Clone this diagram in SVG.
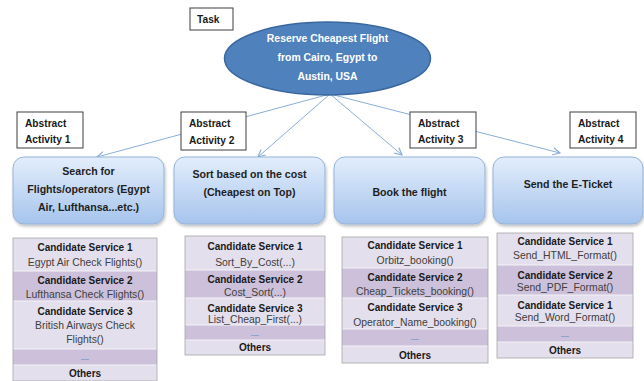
<svg xmlns="http://www.w3.org/2000/svg" width="644" height="381" viewBox="0 0 644 381">
<defs>
<linearGradient id="gb" x1="0" y1="0" x2="0" y2="1">
<stop offset="0" stop-color="#E3EEFB"/>
<stop offset="1" stop-color="#A6C4ED"/>
</linearGradient>
<filter id="sh" x="-10%" y="-10%" width="130%" height="140%">
<feDropShadow dx="1" dy="2" stdDeviation="1.5" flood-color="#000" flood-opacity="0.25"/>
</filter>
<marker id="ah" viewBox="0 0 10 10" refX="9" refY="5" markerWidth="9" markerHeight="9" orient="auto" markerUnits="userSpaceOnUse">
<path d="M1,1 L9,5 L1,9" fill="none" stroke="#8AAED8" stroke-width="1.3"/>
</marker>
<style>
.lbl{fill:#fff;stroke:#3F3F3F;stroke-width:1}
.lt{font-family:"Liberation Sans",Arial,sans-serif;font-weight:bold;font-size:10.2px;fill:#1a1a1a}
.act{fill:url(#gb);stroke:#95B3D7;stroke-width:1;filter:url(#sh)}
.at{font-family:"Liberation Sans",Arial,sans-serif;font-weight:bold;font-size:10.6px;fill:#1f1f1f;text-anchor:middle}
.et{font-family:"Liberation Sans",Arial,sans-serif;font-weight:bold;font-size:10.4px;fill:#fff;text-anchor:middle}
.rl{fill:#E4DFEC}
.rd{fill:#CCC0DA}
.sep{stroke:#F4F2F7;stroke-width:1}
.bd{fill:none;stroke:#A6A6A6;stroke-width:0.8}
.h{font-family:"Liberation Sans",Arial,sans-serif;font-weight:bold;font-size:10px;fill:#1a1a1a;text-anchor:middle}
.n{font-family:"Liberation Sans",Arial,sans-serif;font-size:10.4px;fill:#404040;text-anchor:middle}
.d{font-family:"Liberation Sans",Arial,sans-serif;font-size:7px;fill:#404040;text-anchor:middle}
.c{stroke:#8AAED8;stroke-width:1;fill:none;marker-end:url(#ah)}
</style>
</defs>
<rect width="644" height="381" fill="#fff"/>

<g id="connectors">
<line class="c" x1="330" y1="94" x2="97" y2="157"/>
<line class="c" x1="330" y1="94" x2="258" y2="157"/>
<line class="c" x1="330" y1="94" x2="402" y2="155"/>
<line class="c" x1="330" y1="94" x2="560" y2="153"/>
</g>

<g id="task-label">
<rect class="lbl" x="190" y="8" width="43" height="22"/>
<text class="lt" x="197" y="23">Task</text>
</g>

<g id="task">
<ellipse cx="327.5" cy="58.5" rx="103" ry="36.5" fill="#4F81BD" stroke="#3A679E" stroke-width="1.5"/>
<text class="et" x="327.5" y="42">Reserve Cheapest Flight</text>
<text class="et" x="327.5" y="61">from Cairo, Egypt to</text>
<text class="et" x="327.5" y="80">Austin, USA</text>
</g>

<g id="abstract-activity-1">
<rect class="lbl" x="17" y="112" width="66" height="36"/>
<text class="lt" x="25" y="127">Abstract</text>
<text class="lt" x="25" y="143">Activity 1</text>
</g>
<g id="abstract-activity-2">
<rect class="lbl" x="181" y="112" width="65" height="38"/>
<text class="lt" x="189" y="127">Abstract</text>
<text class="lt" x="189" y="144">Activity 2</text>
</g>
<g id="abstract-activity-3">
<rect class="lbl" x="410" y="112" width="66" height="36"/>
<text class="lt" x="418" y="127">Abstract</text>
<text class="lt" x="418" y="143">Activity 3</text>
</g>
<g id="abstract-activity-4">
<rect class="lbl" x="570" y="112" width="66" height="36"/>
<text class="lt" x="578" y="127">Abstract</text>
<text class="lt" x="578" y="143">Activity 4</text>
</g>

<g id="activity-1">
<rect class="act" x="13" y="157" width="151" height="67" rx="11"/>
<text class="at" x="88.5" y="175">Search for</text>
<text class="at" x="88.5" y="193">Flights/operators  (Egypt</text>
<text class="at" x="88.5" y="211">Air, Lufthansa...etc.)</text>
</g>
<g id="activity-2">
<rect class="act" x="174" y="157" width="151" height="67" rx="11"/>
<text class="at" x="249.5" y="178">Sort based on the cost</text>
<text class="at" x="249.5" y="196">(Cheapest on Top)</text>
</g>
<g id="activity-3">
<rect class="act" x="334" y="157" width="151" height="67" rx="11"/>
<text class="at" x="409.5" y="196">Book the flight</text>
</g>
<g id="activity-4">
<rect class="act" x="493" y="157" width="150" height="67" rx="11"/>
<text class="at" x="568" y="188">Send the E-Ticket</text>
</g>

<g id="services-1">
<rect class="rl" x="13" y="238" width="144" height="33"/>
<rect class="rd" x="13" y="271" width="144" height="30"/>
<rect class="rl" x="13" y="301" width="144" height="48"/>
<rect class="rd" x="13" y="349" width="144" height="16"/>
<rect class="rl" x="13" y="365" width="144" height="16"/>
<line class="sep" x1="13" y1="271" x2="157" y2="271"/>
<line class="sep" x1="13" y1="301" x2="157" y2="301"/>
<line class="sep" x1="13" y1="349" x2="157" y2="349"/>
<line class="sep" x1="13" y1="365" x2="157" y2="365"/>
<rect class="bd" x="13" y="238" width="144" height="143"/>
<text class="h" x="85" y="251">Candidate Service 1</text>
<text class="n" x="85" y="266">Egypt Air Check Flights()</text>
<text class="h" x="85" y="284">Candidate Service 2</text>
<text class="n" x="85" y="298">Lufthansa Check Flights()</text>
<text class="h" x="85" y="315">Candidate Service 3</text>
<text class="n" x="85" y="329">British Airways Check</text>
<text class="n" x="85" y="343">Flights()</text>
<text class="d" x="85" y="360">....</text>
<text class="h" x="85" y="377">Others</text>
</g>

<g id="services-2">
<rect class="rl" x="185" y="236" width="140" height="34"/>
<rect class="rd" x="185" y="270" width="140" height="28"/>
<rect class="rl" x="185" y="298" width="140" height="27"/>
<rect class="rd" x="185" y="325" width="140" height="15"/>
<rect class="rl" x="185" y="340" width="140" height="15"/>
<line class="sep" x1="185" y1="270" x2="325" y2="270"/>
<line class="sep" x1="185" y1="298" x2="325" y2="298"/>
<line class="sep" x1="185" y1="325" x2="325" y2="325"/>
<line class="sep" x1="185" y1="340" x2="325" y2="340"/>
<rect class="bd" x="185" y="236" width="140" height="119"/>
<text class="h" x="255" y="250">Candidate Service 1</text>
<text class="n" x="255" y="266">Sort_By_Cost(...)</text>
<text class="h" x="255" y="283">Candidate Service 2</text>
<text class="n" x="255" y="296">Cost_Sort(...)</text>
<text class="h" x="255" y="312">Candidate Service 3</text>
<text class="n" x="255" y="323">List_Cheap_First(...)</text>
<text class="d" x="255" y="336">....</text>
<text class="h" x="255" y="351">Others</text>
</g>

<g id="services-3">
<rect class="rl" x="342" y="237" width="146" height="31"/>
<rect class="rd" x="342" y="268" width="146" height="30"/>
<rect class="rl" x="342" y="298" width="146" height="31"/>
<rect class="rd" x="342" y="329" width="146" height="17"/>
<rect class="rl" x="342" y="346" width="146" height="17"/>
<line class="sep" x1="342" y1="268" x2="488" y2="268"/>
<line class="sep" x1="342" y1="298" x2="488" y2="298"/>
<line class="sep" x1="342" y1="329" x2="488" y2="329"/>
<line class="sep" x1="342" y1="346" x2="488" y2="346"/>
<rect class="bd" x="342" y="237" width="146" height="126"/>
<text class="h" x="415" y="249">Candidate Service 1</text>
<text class="n" x="415" y="264">Orbitz_booking()</text>
<text class="h" x="415" y="281">Candidate Service 2</text>
<text class="n" x="415" y="295">Cheap_Tickets_booking()</text>
<text class="h" x="415" y="311">Candidate Service 3</text>
<text class="n" x="415" y="326">Operator_Name_booking()</text>
<text class="d" x="415" y="340">....</text>
<text class="h" x="415" y="359">Others</text>
</g>

<g id="services-4">
<rect class="rl" x="497" y="233" width="136" height="32"/>
<rect class="rd" x="497" y="265" width="136" height="30"/>
<rect class="rl" x="497" y="295" width="136" height="31"/>
<rect class="rd" x="497" y="326" width="136" height="16"/>
<rect class="rl" x="497" y="342" width="136" height="16"/>
<line class="sep" x1="497" y1="265" x2="633" y2="265"/>
<line class="sep" x1="497" y1="295" x2="633" y2="295"/>
<line class="sep" x1="497" y1="326" x2="633" y2="326"/>
<line class="sep" x1="497" y1="342" x2="633" y2="342"/>
<rect class="bd" x="497" y="233" width="136" height="125"/>
<text class="h" x="565" y="245">Candidate Service 1</text>
<text class="n" x="565" y="259">Send_HTML_Format()</text>
<text class="h" x="565" y="279">Candidate Service 2</text>
<text class="n" x="565" y="291">Send_PDF_Format()</text>
<text class="h" x="565" y="309">Candidate Service 1</text>
<text class="n" x="565" y="321">Send_Word_Format()</text>
<text class="d" x="565" y="337">....</text>
<text class="h" x="565" y="354">Others</text>
</g>
</svg>
